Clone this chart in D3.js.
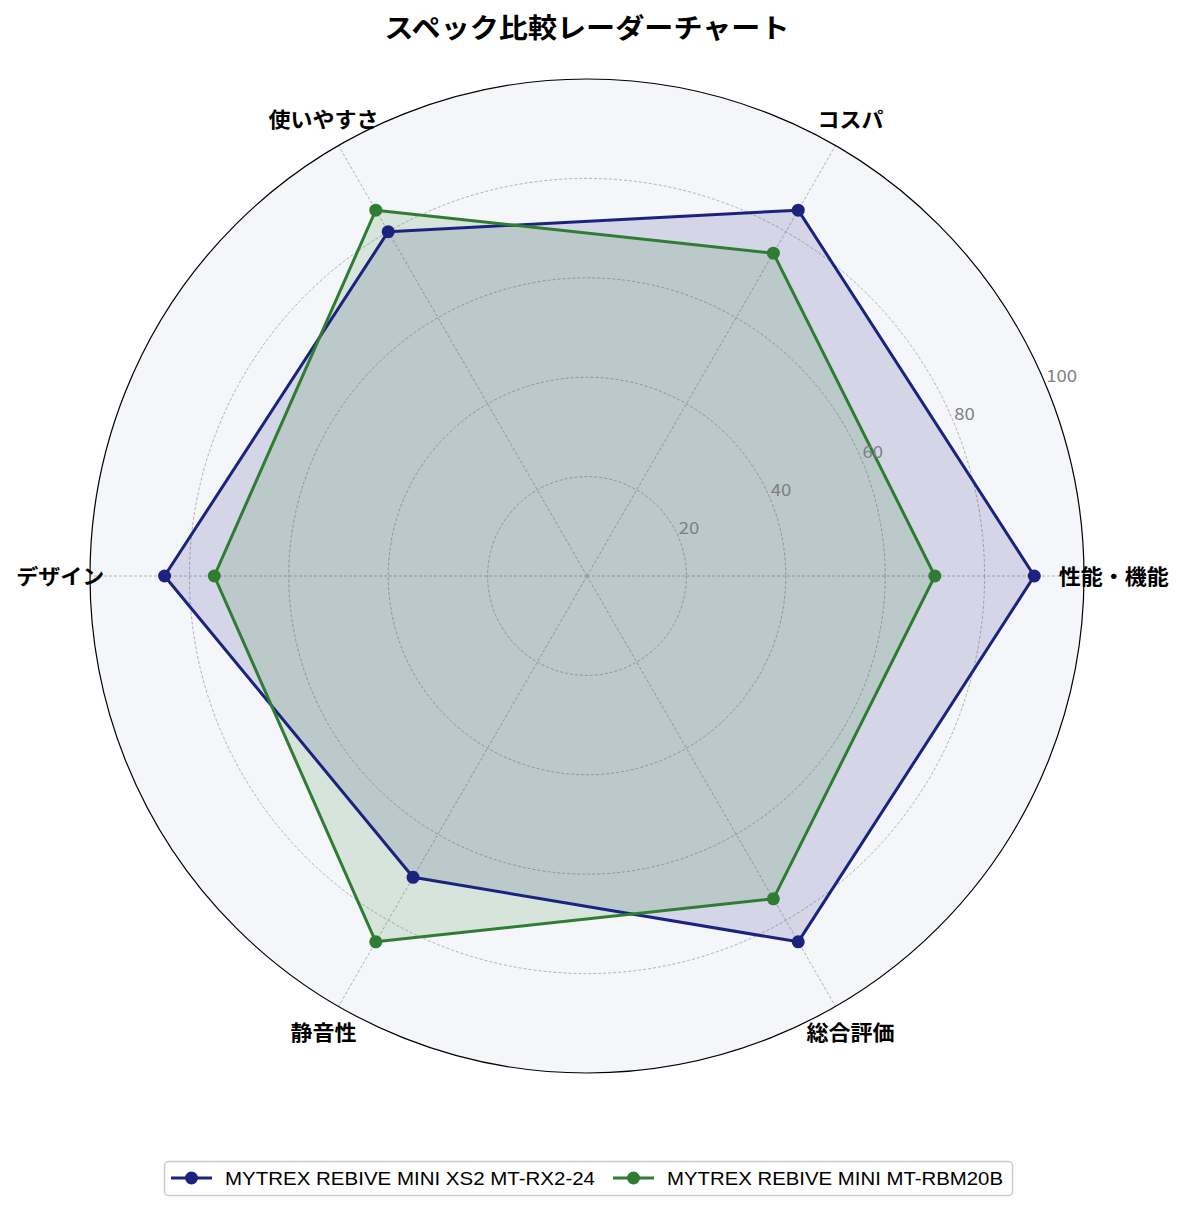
<!DOCTYPE html>
<html>
<head>
<meta charset="utf-8">
<script src="https://cdn.jsdelivr.net/npm/d3@7"></script>
<style>
  body { margin: 0; background: #fff; }
  text { font-family: "Noto Sans CJK JP", "Noto Sans", sans-serif; }
  text.legend-label { font-family: "Liberation Sans", Arial, sans-serif; }
</style>
</head>
<body>
<div id="chart"></div>
<script>
// chart data
var categories = ["性能・機能", "コスパ", "使いやすさ", "デザイン", "静音性", "総合評価"];
var seriesNames = ["MYTREX REBIVE MINI XS2 MT-RX2-24", "MYTREX REBIVE MINI MT-RBM20B"];
var seriesA = [90, 85, 80, 85, 70, 85];
var seriesB = [70, 75, 85, 75, 85, 75];
var radialTicks = [20, 40, 60, 80, 100];
var colors = ["#1a237e", "#2e7d32"];

var width = 1185, height = 1211;
var cx = 587, cy = 576, R = 497;

var svg = d3.select("#chart").append("svg")
    .attr("width", width)
    .attr("height", height);

var r = d3.scaleLinear().domain([0, 100]).range([0, R]);
// angle in radians, counter-clockwise from the right
var angle = d3.scaleLinear().domain([0, categories.length]).range([0, 2 * Math.PI]);

function px(i, v){ return cx + r(v) * Math.cos(angle(i)); }
function py(i, v){ return cy - r(v) * Math.sin(angle(i)); }

// background disc
svg.append("circle")
    .attr("cx", cx).attr("cy", cy).attr("r", R)
    .attr("fill", "#f5f6fa");

// grid rings
svg.selectAll(".ring").data(radialTicks.slice(0, -1)).enter()
    .append("circle")
    .attr("cx", cx).attr("cy", cy)
    .attr("r", function(d){ return r(d); })
    .attr("fill", "none")
    .attr("stroke", "#9e9e9e")
    .attr("stroke-width", 0.8)
    .attr("stroke-dasharray", "3,2");

// spokes
svg.selectAll(".spoke").data(categories).enter()
    .append("line")
    .attr("x1", cx).attr("y1", cy)
    .attr("x2", function(d, i){ return px(i, 100); })
    .attr("y2", function(d, i){ return py(i, 100); })
    .attr("stroke", "#9e9e9e")
    .attr("stroke-width", 0.8)
    .attr("stroke-dasharray", "3,2");

var line = d3.line()
    .x(function(d, i){ return px(i, d); })
    .y(function(d, i){ return py(i, d); })
    .curve(d3.curveLinearClosed);

var allSeries = [seriesA, seriesB];

// fills first
allSeries.forEach(function(s, k){
    svg.append("path")
        .attr("d", line(s))
        .attr("fill", colors[k])
        .attr("fill-opacity", 0.15)
        .attr("stroke", "none");
});

// lines and markers
allSeries.forEach(function(s, k){
    svg.append("path")
        .attr("d", line(s))
        .attr("fill", "none")
        .attr("stroke", colors[k])
        .attr("stroke-width", 3)
        .attr("stroke-linejoin", "round");
    svg.selectAll(".pt" + k).data(s).enter()
        .append("circle")
        .attr("cx", function(d, i){ return px(i, d); })
        .attr("cy", function(d, i){ return py(i, d); })
        .attr("r", 6.5)
        .attr("fill", colors[k]);
});

// outer circle
svg.append("circle")
    .attr("cx", cx).attr("cy", cy).attr("r", R)
    .attr("fill", "none")
    .attr("stroke", "#000")
    .attr("stroke-width", 1.2);

// radial tick labels at 22.5 degrees, sitting just above the ring
var tickAngle = 22.5 * Math.PI / 180;
svg.selectAll(".rtick").data(radialTicks).enter()
    .append("text")
    .attr("x", function(d){ return cx + r(d) * Math.cos(tickAngle); })
    .attr("y", function(d){ return cy - r(d) * Math.sin(tickAngle) - 4; })
    .attr("text-anchor", "start")
    .attr("font-size", 17)
    .attr("fill", "#808080")
    .attr("textLength", function(d){ return String(d).length * 10.3; })
    .attr("lengthAdjust", "spacingAndGlyphs")
    .text(function(d){ return d; });

// category labels
svg.selectAll(".cat").data(categories).enter()
    .append("text")
    .attr("x", function(d, i){ return px(i, 106); })
    .attr("y", function(d, i){ return py(i, 106); })
    .attr("text-anchor", "middle")
    .attr("dy", "0.36em")
    .attr("font-size", 21)
    .attr("font-weight", "bold")
    .attr("fill", "#000")
    .attr("textLength", function(d){ return d.length * 22; })
    .attr("lengthAdjust", "spacingAndGlyphs")
    .text(function(d){ return d; });

// title
svg.append("text")
    .attr("x", cx)
    .attr("y", 28)
    .attr("dy", "0.36em")
    .attr("text-anchor", "middle")
    .attr("font-size", 27)
    .attr("font-weight", "bold")
    .attr("textLength", 405)
    .attr("lengthAdjust", "spacingAndGlyphs")
    .text("スペック比較レーダーチャート");

// legend
var legend = svg.append("g");
legend.append("rect")
    .attr("x", 164.5).attr("y", 1161.5)
    .attr("width", 848).attr("height", 34)
    .attr("rx", 4)
    .attr("fill", "#fff")
    .attr("stroke", "#cccccc")
    .attr("stroke-width", 1.5);

var legendX = [171, 613];
var legendTextLen = [370, 336];
seriesNames.forEach(function(name, k){
    var g = legend.append("g").attr("transform", "translate(" + legendX[k] + ",1178)");
    g.append("line")
        .attr("x1", 0).attr("x2", 41)
        .attr("stroke", colors[k])
        .attr("stroke-width", 3);
    g.append("circle").attr("cx", 20.5).attr("r", 6.5).attr("fill", colors[k]);
    g.append("text")
        .attr("class", "legend-label")
        .attr("x", 54)
        .attr("dy", "0.36em")
        .attr("font-size", 19)
        .attr("fill", "#000")
        .attr("textLength", legendTextLen[k])
        .attr("lengthAdjust", "spacingAndGlyphs")
        .text(name);
});
</script>
</body>
</html>
